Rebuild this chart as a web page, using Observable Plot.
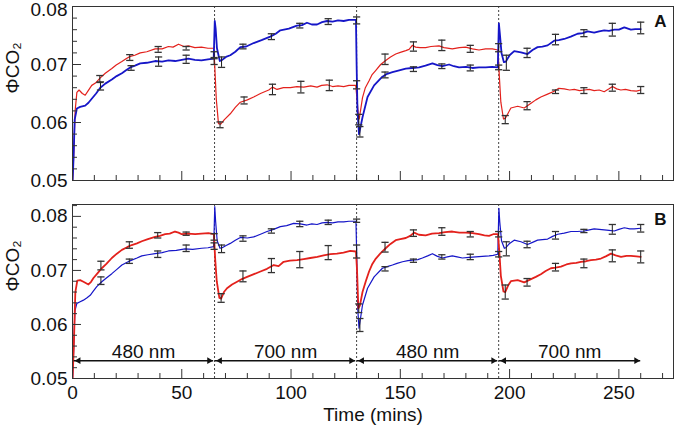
<!DOCTYPE html>
<html><head><meta charset="utf-8">
<script src="https://cdn.jsdelivr.net/npm/d3@7"></script>
<script src="https://cdn.jsdelivr.net/npm/@observablehq/plot@0.6"></script>
<style>
html,body{margin:0;padding:0;background:#fff;overflow:hidden;}
#chart svg{display:block;}
</style></head><body><div id="chart"></div>
<script>
// ---------- data (time in minutes, ΦCO2) ----------
const redA = [[0,0.0495],[0.6,0.055],[1.2,0.062],[2,0.0652],[3,0.0656],[4.5,0.065],[5.8,0.0647],[7.2,0.0655],[8.8,0.0664],[10.5,0.0668],[12.7,0.0677],[15,0.0685],[18,0.0693],[20,0.0699],[22.6,0.0705],[24.5,0.071],[26.4,0.0714],[28.5,0.0716],[31,0.072],[34,0.0722],[37.8,0.0727],[41,0.0727],[43.9,0.0731],[46,0.073],[48.5,0.0735],[51,0.0731],[53,0.0732],[56,0.0729],[59,0.073],[62,0.0728],[64.7,0.0728],
[65.3,0.068],[65.8,0.064],[66.8,0.0598],[67.8,0.0597],[69.5,0.0605],[72.2,0.0615],[74.5,0.0626],[76.8,0.0635],[80,0.0639],[82.9,0.0644],[86,0.065],[89.8,0.0656],[91.5,0.0661],[93.6,0.0657],[96.5,0.066],[99.7,0.066],[102.7,0.0662],[105.8,0.0661],[109,0.0663],[111.9,0.0661],[114,0.0664],[116.5,0.0665],[119,0.0662],[121.5,0.0663],[124.1,0.0662],[126.5,0.0664],[129.6,0.0664],
[130.2,0.064],[130.8,0.0612],[131.2,0.0606],[132.7,0.0643],[134,0.066],[135.7,0.0672],[137,0.0682],[138.8,0.069],[141,0.07],[143.3,0.0707],[145.5,0.0713],[147.9,0.0718],[150,0.0721],[152.5,0.0724],[154,0.0726],[155.5,0.0733],[157,0.073],[159,0.0729],[161.6,0.0729],[164,0.0731],[167.7,0.0732],[170,0.0729],[173.8,0.0727],[177,0.0729],[179.9,0.073],[183,0.0727],[186,0.0725],[189,0.0727],[192.1,0.0727],[194.7,0.0725],
[195.3,0.068],[196,0.0635],[197.2,0.0606],[198,0.0607],[200.6,0.0625],[203.7,0.0628],[206.7,0.0625],[209.8,0.0633],[212,0.0639],[214.3,0.0644],[217.4,0.0649],[220.4,0.0654],[222.5,0.0659],[225,0.0658],[227.5,0.0656],[229.6,0.0657],[232,0.0655],[234.2,0.0656],[236.5,0.0657],[238.7,0.0655],[241,0.0656],[243.3,0.0653],[245.5,0.0658],[247.1,0.0662],[249,0.0658],[250.9,0.0656],[253,0.0657],[255.5,0.0655],[258,0.0654],[260,0.0656]];

const blueA = [[0,0.0495],[0.5,0.054],[1,0.0605],[2,0.0624],[3.5,0.0627],[5.8,0.0629],[7.3,0.0634],[8.8,0.0641],[10.8,0.065],[12.7,0.066],[15,0.0667],[18,0.0674],[20.2,0.068],[22.6,0.0685],[24.5,0.069],[26.4,0.0695],[28.6,0.0698],[31,0.0702],[34,0.0703],[37.8,0.0706],[41,0.0705],[43.9,0.0707],[47,0.0706],[50,0.0708],[53,0.071],[56,0.0708],[59,0.0707],[62,0.0709],[64.6,0.071],
[65.1,0.0775],[65.5,0.0762],[66.1,0.0728],[67.4,0.0706],[68.5,0.0708],[70.2,0.0713],[72.2,0.0716],[74.5,0.0722],[76.8,0.073],[79.5,0.0731],[82.9,0.0737],[86.5,0.0742],[90.5,0.0748],[93,0.0753],[95.1,0.0759],[99,0.0762],[102.7,0.0767],[105,0.0768],[107.3,0.0772],[109.5,0.0769],[111.9,0.0769],[114.2,0.0773],[116.5,0.0775],[119,0.0774],[121.5,0.0776],[124.1,0.0775],[126.5,0.0777],[129.7,0.0777],
[130,0.07],[130.4,0.062],[131.1,0.058],[132.7,0.0609],[135,0.0644],[138,0.0664],[141.8,0.0679],[144,0.0684],[146.4,0.0687],[149.5,0.069],[152.5,0.0693],[155.5,0.0694],[158.6,0.0695],[161.5,0.0698],[164.7,0.0702],[167,0.0699],[169.3,0.0697],[172.3,0.07],[174.5,0.0697],[176.9,0.0695],[180,0.0696],[183,0.0694],[186,0.0695],[189.1,0.0695],[192,0.0696],[194.6,0.0695],
[195.1,0.0771],[195.5,0.0755],[196.3,0.072],[197.4,0.0704],[198.3,0.0705],[200,0.0716],[202.1,0.0723],[205.2,0.0721],[208.2,0.0718],[210.5,0.0725],[212.8,0.073],[215,0.0731],[217.4,0.0733],[220.4,0.0741],[222.5,0.0742],[225,0.0744],[228,0.0748],[231.1,0.0753],[233.5,0.0754],[235.7,0.0757],[238.7,0.0755],[241,0.0757],[243.3,0.0759],[245.5,0.0758],[247.9,0.076],[250,0.076],[252.5,0.0764],[255.5,0.076],[257.5,0.0761],[260,0.0761]];

const redB = [[0,0.0495],[0.6,0.056],[1.3,0.066],[2.2,0.0681],[3.5,0.0682],[5,0.0679],[7.3,0.0674],[8.5,0.0679],[9.6,0.0686],[11.5,0.0695],[13.4,0.0704],[15.5,0.0712],[18,0.0723],[20.3,0.0731],[22.6,0.0738],[25,0.0743],[27.1,0.0747],[29.5,0.075],[31.7,0.0754],[34.5,0.0758],[37.8,0.0762],[40,0.0764],[42.4,0.0767],[44.5,0.0768],[46.9,0.0772],[48.5,0.077],[50,0.0767],[53,0.0768],[56.1,0.0767],[59,0.0768],[62.2,0.0769],[64.7,0.0767],
[65.3,0.072],[66,0.068],[67.2,0.0649],[68,0.0648],[69.3,0.066],[70.7,0.0667],[73,0.0674],[75.3,0.0679],[77.5,0.0684],[79.9,0.0688],[83,0.0693],[86,0.0698],[89,0.0703],[92.1,0.071],[94.3,0.0708],[96.6,0.0716],[99.5,0.0718],[102.7,0.0719],[105.8,0.0721],[108.8,0.0723],[112,0.0725],[114.9,0.0728],[118,0.073],[121,0.0731],[124,0.0733],[127.1,0.0736],[129.7,0.0735],
[130.2,0.07],[130.8,0.063],[131.5,0.0635],[132.7,0.066],[134.2,0.068],[135.7,0.0698],[137.2,0.0712],[138.8,0.0722],[141,0.0732],[143.3,0.0741],[145.5,0.0749],[147.9,0.0756],[150,0.0758],[152.5,0.076],[154.5,0.0764],[156.3,0.077],[158.5,0.0766],[161.6,0.0765],[164.5,0.0768],[167.7,0.0769],[170.5,0.0771],[173.8,0.0772],[177,0.077],[179.9,0.077],[183,0.0769],[186,0.0767],[188.5,0.0765],[190.6,0.0764],[192.5,0.0767],[194.7,0.0767],
[195.3,0.0735],[196,0.069],[197.2,0.0661],[198,0.066],[199.3,0.0672],[200.6,0.068],[203.7,0.0682],[206.7,0.0678],[209.8,0.0684],[212,0.0688],[214.3,0.0693],[216.5,0.0699],[218.9,0.0704],[221,0.0705],[223.5,0.0707],[226,0.0711],[228.1,0.0713],[230.5,0.0714],[232.6,0.0716],[235,0.0717],[237.2,0.0719],[239.5,0.072],[241.8,0.0722],[244,0.0726],[246.4,0.0731],[248.5,0.0728],[251,0.0725],[253.5,0.0727],[255.5,0.0727],[258,0.0726],[260,0.0725]];

const blueB = [[0,0.0495],[0.5,0.055],[1.1,0.0625],[2,0.0639],[3.5,0.0642],[5,0.0645],[6.5,0.0649],[8.1,0.0654],[9.6,0.0662],[11.1,0.067],[13.4,0.0679],[15.5,0.0686],[18,0.0694],[20.3,0.0702],[22.6,0.071],[25,0.0715],[27.1,0.0719],[29.5,0.0723],[31.7,0.0727],[34.5,0.0729],[37.8,0.0731],[41,0.0733],[43.9,0.0736],[47.5,0.0737],[51.5,0.074],[55,0.0739],[59.1,0.0741],[62,0.0742],[64.6,0.0744],
[65.1,0.0818],[65.5,0.079],[66.2,0.0755],[67.5,0.0741],[68.5,0.0742],[70.3,0.0746],[72.2,0.075],[74.5,0.0756],[76.8,0.0761],[80,0.076],[82.9,0.0762],[86,0.0767],[89,0.0772],[92,0.0776],[95.1,0.0781],[98,0.0783],[101.2,0.0787],[104.2,0.0786],[107.3,0.0784],[109.5,0.0786],[111.9,0.0785],[114.2,0.0788],[116.5,0.0789],[119,0.0788],[121.5,0.079],[124.1,0.079],[126.5,0.0791],[129.7,0.0791],
[130.1,0.072],[130.5,0.063],[131.1,0.0593],[132.7,0.0636],[135,0.0667],[138,0.0688],[141.8,0.0704],[144,0.0707],[146.4,0.071],[148.5,0.0713],[151,0.0716],[153.5,0.0718],[155.5,0.0719],[158,0.072],[160.1,0.0723],[162.5,0.0727],[164.7,0.0731],[167,0.0726],[169.3,0.0723],[171.5,0.0725],[173.8,0.0727],[176,0.0725],[178.4,0.0723],[181.5,0.0724],[184.5,0.0725],[187.5,0.0726],[190.6,0.0727],[192.5,0.0728],[194.6,0.073],
[195.1,0.0815],[195.5,0.079],[196.3,0.0755],[197.6,0.0741],[198.3,0.0742],[200,0.075],[202.1,0.0756],[205.2,0.0753],[208.2,0.0748],[210.5,0.0752],[212.8,0.0756],[215,0.0757],[217.4,0.0758],[219.7,0.0763],[222,0.0767],[225,0.0769],[228.1,0.0772],[231,0.0772],[234.2,0.0773],[236.5,0.0775],[238.7,0.0777],[241,0.0776],[243.3,0.0775],[245.5,0.0774],[247.9,0.0773],[250,0.0776],[252.5,0.0779],[255,0.0777],[257,0.0777],[260,0.0778]];

// error bars: [time, mean, half-width]
const errRedA = [[12.5,0.0675,0.0006],[26.2,0.0712,0.0005],[39.2,0.0726,0.0005],[52,0.0728,0.0003],[64.8,0.0717,0.0005],[67.5,0.0596,0.0005],[78.5,0.0638,0.0006],[91.5,0.0657,0.0009],[104.5,0.0661,0.001],[117.5,0.0664,0.0009],[130,0.0665,0.0007],[131,0.0605,0.0009],[143,0.0709,0.0009],[156,0.0731,0.0008],[169,0.0733,0.0009],[182,0.0727,0.0006],[195,0.0729,0.0007],[198,0.0605,0.0007],[208,0.0629,0.0007],[221,0.0653,0.0003],[234,0.0655,0.0005],[247,0.066,0.0006],[260,0.0656,0.0006]];
const errBlueA = [[12.8,0.0663,0.0007],[26.8,0.0694,0.0004],[39.4,0.0705,0.0008],[52,0.0709,0.0007],[64.8,0.0705,0.0005],[68.2,0.0704,0.0009],[78,0.0731,0.0004],[91,0.0748,0.0005],[104,0.0767,0.0004],[117,0.0774,0.0005],[130,0.0776,0.0006],[131.5,0.0584,0.0009],[143,0.0682,0.0005],[156,0.0692,0.0004],[169,0.0697,0.0004],[182,0.0694,0.0005],[195,0.0695,0.0004],[198.5,0.0703,0.0013],[208,0.072,0.0008],[221,0.0743,0.0009],[234,0.0754,0.0006],[247,0.076,0.0011],[260,0.0763,0.001]];
const errRedB = [[13,0.0709,0.0008],[26,0.0747,0.0006],[39,0.0765,0.0005],[52,0.0768,0.0003],[64.8,0.0762,0.0006],[68,0.0649,0.0008],[78,0.0689,0.001],[91,0.0709,0.0013],[104,0.072,0.0015],[117,0.0733,0.0013],[130,0.0735,0.0012],[131,0.063,0.0008],[143,0.0743,0.0009],[156,0.0769,0.0006],[169,0.0772,0.0007],[182,0.0767,0.0005],[195,0.0767,0.0005],[198,0.066,0.0013],[208,0.0678,0.0007],[221,0.0706,0.0007],[234,0.0713,0.0008],[247,0.0727,0.0011],[260,0.0725,0.0011]];
const errBlueB = [[13,0.0681,0.0007],[26,0.0717,0.0004],[39,0.073,0.0006],[52,0.0741,0.0006],[64.8,0.0745,0.0006],[68.2,0.074,0.0007],[78,0.0759,0.0005],[91,0.0773,0.0004],[104,0.0786,0.0005],[117,0.0789,0.0004],[130,0.0792,0.0003],[131.5,0.0599,0.0012],[143,0.0703,0.0004],[156,0.0718,0.0003],[169,0.0725,0.0004],[182,0.0725,0.0005],[195,0.073,0.0005],[198.5,0.074,0.0013],[208,0.0748,0.0006],[221,0.0765,0.0007],[234,0.0773,0.0003],[247,0.0776,0.0009],[260,0.0778,0.0007]];

const switchTimes = [65, 130, 195];
const phaseLabels = ["480 nm", "700 nm", "480 nm", "700 nm"];
const phaseStart = [0.7, 65.4, 130.4, 195.4];
const phaseEnd = [64.6, 129.6, 194.6, 260];
const phaseMid = [32.5, 97.5, 162.5, 227.5];
const arrowLevel = 0.0533;

const xMajorTicks = [0, 50, 100, 150, 200, 250];
const xMinorTicks = [10,20,30,40,60,70,80,90,110,120,130,140,160,170,180,190,210,220,230,240,260,270];
const yMajorTicks = [0.05, 0.06, 0.07, 0.08];
const yMinorTicksA = [0.052,0.054,0.056,0.058,0.062,0.064,0.066,0.068,0.072,0.074,0.076,0.078];
const yMinorTicksB = [0.052,0.054,0.056,0.058,0.062,0.064,0.066,0.068,0.072,0.074,0.076,0.078,0.082];

const redColor = "#e3211c";
const blueColor = "#1616c8";
const W = 675, ML = 72, MR = 2;
const FS = 19;
const font = "'Liberation Sans', Arial, Helvetica, sans-serif";

const capSymbol = {draw(context, size) { const r = Math.sqrt(size / Math.PI); context.moveTo(-r, 0); context.lineTo(r, 0); }};

function panel(o) {
  const fh = o.height - o.marginTop - o.marginBottom;
  const fw = W - ML - MR;
  const pts = a => a.map(([t, v]) => ({t, v}));
  const errs = a => a.map(([t, m, h]) => ({t, lo: m - h, hi: m + h}));
  const lineR = Plot.line(pts(o.red), {x: "t", y: "v", stroke: redColor, strokeWidth: o.redWidth, clip: true});
  const lineB = Plot.line(pts(o.blue), {x: "t", y: "v", stroke: blueColor, strokeWidth: o.blueWidth, clip: true});
  const errMarks = [];
  for (const e of [errs(o.errRed), errs(o.errBlue)]) {
    errMarks.push(Plot.ruleX(e, {x: "t", y1: "lo", y2: "hi", stroke: "#1a1a1a", strokeWidth: 1}));
    errMarks.push(Plot.dot(e, {x: "t", y: "lo", symbol: capSymbol, r: 3.6, fill: "none", stroke: "#333", strokeWidth: 1.3}));
    errMarks.push(Plot.dot(e, {x: "t", y: "hi", symbol: capSymbol, r: 3.6, fill: "none", stroke: "#333", strokeWidth: 1.3}));
  }
  const lowTicks = yMajorTicks.filter(v => v < o.yDomain[1] - 0.001);
  const topTicks = yMajorTicks.filter(v => v >= o.yDomain[1] - 0.001);
  const marks = [
    Plot.ruleX(switchTimes, {stroke: "#444", strokeDasharray: "2,2", strokeWidth: 1}),
    ...(o.redOnTop ? [lineB, lineR] : [lineR, lineB]),
    ...errMarks,
    Plot.ruleX(xMinorTicks, {stroke: "#333", insetTop: fh - 5}),
    Plot.ruleX(xMajorTicks, {stroke: "#333", insetTop: fh - 9}),
    Plot.ruleY(o.yMinor, {stroke: "#333", insetRight: fw - 5}),
    Plot.ruleY(yMajorTicks, {stroke: "#333", insetRight: fw - 9}),
    Plot.frame({stroke: "#333", strokeWidth: 1}),
    Plot.axisY(lowTicks, {tickSize: 0, tickPadding: 5, tickFormat: d3.format(".2f"), fontSize: FS}),
    Plot.axisY(topTicks, {tickSize: 0, tickPadding: 5, tickFormat: d3.format(".2f"), fontSize: FS, dy: 3.5}),
    Plot.text(["ΦCO₂"], {text: d => d, frameAnchor: "left", rotate: -90, dx: -60, fontSize: FS}),
    Plot.text([o.letter], {text: d => d, frameAnchor: "top-right", dx: -7, dy: 8, lineAnchor: "top", textAnchor: "end", fontWeight: "bold", fontSize: 17})
  ];
  if (o.bottom) {
    const phases = phaseLabels.map((label, i) => ({label, start: phaseStart[i], end: phaseEnd[i], mid: phaseMid[i]}));
    marks.push(
      Plot.ruleY(phases, {y: arrowLevel, x1: "start", x2: "end", stroke: "#111", strokeWidth: 1.5}),
      Plot.dot(phases, {x: "end", y: arrowLevel, symbol: "triangle2", r: 3.2, rotate: 90, fill: "#111", stroke: "none", dx: -4.5}),
      Plot.dot(phases, {x: "start", y: arrowLevel, symbol: "triangle2", r: 3.2, rotate: -90, fill: "#111", stroke: "none", dx: 4.5}),
      Plot.text(phases, {x: "mid", y: arrowLevel, text: "label", lineAnchor: "bottom", dy: -3, fontSize: FS}),
      Plot.axisX(xMajorTicks, {tickSize: 0, tickPadding: 7, fontSize: FS}),
      Plot.text(["Time (mins)"], {text: d => d, frameAnchor: "bottom", lineAnchor: "bottom", dy: 42, fontSize: FS})
    );
  }
  return Plot.plot({
    width: W, height: o.height,
    marginTop: o.marginTop, marginBottom: o.marginBottom, marginLeft: ML, marginRight: MR,
    style: {fontFamily: font, fontSize: FS + "px", color: "#111", background: "#fff", overflow: "visible"},
    x: {domain: [0, 275], axis: o.bottom ? undefined : null},
    y: {domain: o.yDomain},
    marks
  });
}

const chart = document.getElementById("chart");
chart.append(panel({red: redA, blue: blueA, errRed: errRedA, errBlue: errBlueA, yDomain: [0.05, 0.08], yMinor: yMinorTicksA,
  height: 192, marginTop: 6, marginBottom: 12, letter: "A", redWidth: 1.2, blueWidth: 1.8, redOnTop: false, bottom: false}));
chart.append(panel({red: redB, blue: blueB, errRed: errRedB, errBlue: errBlueB, yDomain: [0.05, 0.0822], yMinor: yMinorTicksB,
  height: 240, marginTop: 12, marginBottom: 54, letter: "B", redWidth: 1.8, blueWidth: 1.2, redOnTop: true, bottom: true}));
</script></body></html>
